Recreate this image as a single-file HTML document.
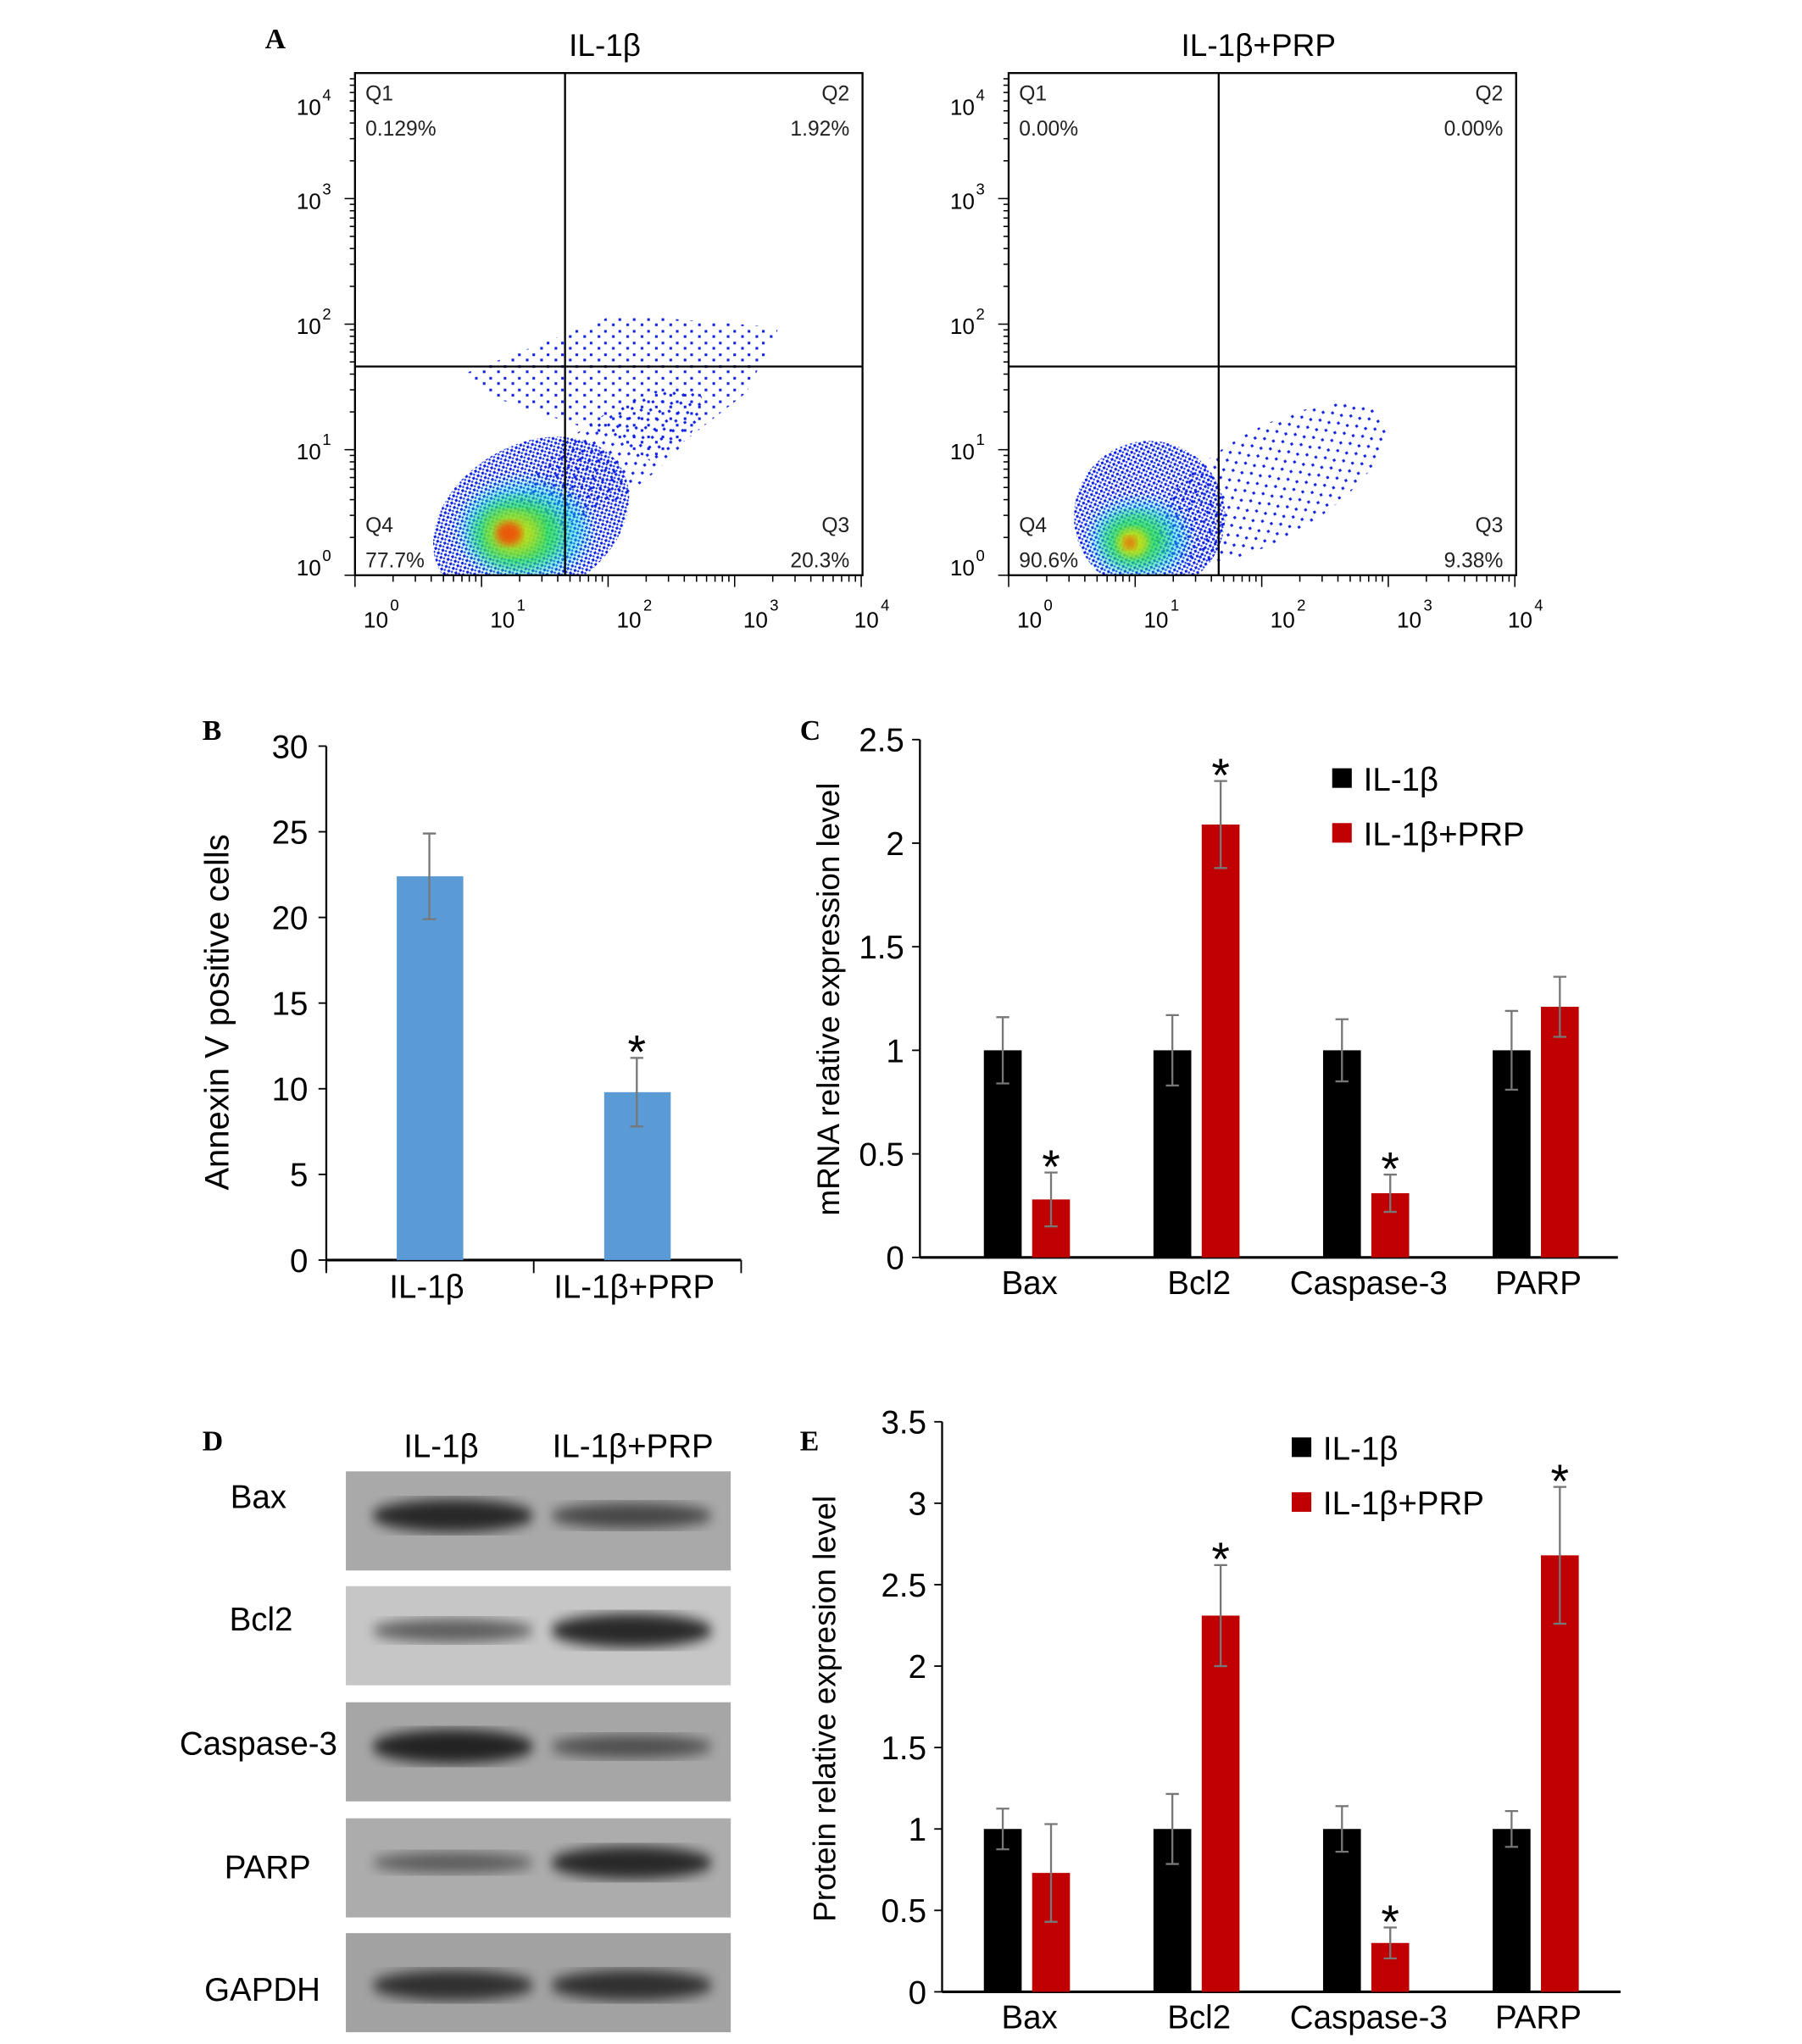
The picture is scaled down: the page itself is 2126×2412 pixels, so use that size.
<!DOCTYPE html>
<html><head><meta charset="utf-8">
<style>
html,body{margin:0;padding:0;background:#fff;}
svg{display:block;}
text{font-family:"Liberation Sans Narrow","Liberation Sans",sans-serif;}
.lbl{font-family:"Liberation Serif",serif;font-weight:bold;font-size:22px;}
</style></head>
<body>
<svg id="fig" xmlns="http://www.w3.org/2000/svg" width="2126" height="2412" viewBox="0 0 1381 1567">
<defs>
<filter id="blur3"><feGaussianBlur stdDeviation="3"/></filter>
<filter id="blur6"><feGaussianBlur stdDeviation="6"/></filter>
<filter id="blurB"><feGaussianBlur stdDeviation="4 5"/></filter>
<pattern id="dots" width="4" height="4" patternUnits="userSpaceOnUse">
<rect x="0" y="0" width="2" height="2" fill="#1020e0"/><rect x="2" y="2" width="1.5" height="1.5" fill="#1a3af0"/>
</pattern>
<pattern id="dotsSparse" width="11" height="9" patternUnits="userSpaceOnUse">
<rect x="1" y="1" width="2" height="2" fill="#1020e0"/><rect x="7" y="5" width="2" height="2" fill="#1020e0"/>
</pattern>
<clipPath id="clipL"><rect x="272" y="56" width="389" height="385"/></clipPath>
<clipPath id="clipR"><rect x="773" y="56" width="389" height="385"/></clipPath>
</defs>
<g id="panelA"></g>
<g id="panelB"></g>
<g id="panelC"></g>
<g id="panelD"></g>
<g id="panelE"></g>
</svg>
<script>
// ---------- data ----------
const flowTitles = ["IL-1β", "IL-1β+PRP"];
const flowQ1 = ["0.129%", "0.00%"];
const flowQ2 = ["1.92%", "0.00%"];
const flowQ3 = ["20.3%", "9.38%"];
const flowQ4 = ["77.7%", "90.6%"];

const bCategories = ["IL-1β", "IL-1β+PRP"];
const bValues = [22.4, 9.8];
const bErrors = [2.5, 2.0];
const bStars = [false, true];
const bTicks = [0, 5, 10, 15, 20, 25, 30];

const geneCategories = ["Bax", "Bcl2", "Caspase-3", "PARP"];
const seriesNames = ["IL-1β", "IL-1β+PRP"];
const cIL = [1, 1, 1, 1];
const cILerr = [0.16, 0.17, 0.15, 0.19];
const cPRP = [0.28, 2.09, 0.31, 1.21];
const cPRPerr = [0.13, 0.21, 0.09, 0.145];
const cStars = [true, true, true, false];
const cTicks = [0, 0.5, 1, 1.5, 2, 2.5];
const cTickLabels = ["0", "0.5", "1", "1.5", "2", "2.5"];

const eIL = [1, 1, 1, 1];
const eILerr = [0.125, 0.215, 0.14, 0.11];
const ePRP = [0.73, 2.31, 0.30, 2.68];
const ePRPerr = [0.30, 0.31, 0.095, 0.42];
const eStars = [false, true, true, true];
const eTicks = [0, 0.5, 1, 1.5, 2, 2.5, 3, 3.5];
const eTickLabels = ["0", "0.5", "1", "1.5", "2", "2.5", "3", "3.5"];

const blotRows = ["Bax", "Bcl2", "Caspase-3", "PARP", "GAPDH"];
const blotIntensityIL = [0.85, 0.45, 0.9, 0.35, 0.75];
const blotIntensityPRP = [0.55, 0.9, 0.45, 0.85, 0.75];

// ---------- helpers ----------
const NS = "http://www.w3.org/2000/svg";
function el(parent, tag, attrs, text) {
  const e = document.createElementNS(NS, tag);
  for (const k in attrs) e.setAttribute(k, attrs[k]);
  if (text !== undefined) e.textContent = text;
  parent.appendChild(e);
  return e;
}
const A = document.getElementById('panelA');
const B = document.getElementById('panelB');
const C = document.getElementById('panelC');
const D = document.getElementById('panelD');
const E = document.getElementById('panelE');

// ---------- Panel A ----------
let t = el(A, 'text', {x: 203, y: 37, class: 'lbl'}, 'A');



function drawFlow(i, ox) {
  const g = el(A, 'g', {});
  
  
  const L = ox, R = ox + 389, T = 56, Bm = 441;
  const dec = (Bm - T) / 4;
  const xdec = 97;
  const tt = el(g, 'text', {x: (L + R) / 2 - 3, y: 43, 'font-size': 24, 'text-anchor': 'middle'}, flowTitles[i]);
  
  
  // cloud
  const cl = el(g, 'g', {'clip-path': i === 0 ? 'url(#clipL)' : 'url(#clipR)'});
  
  
  if (i === 0) {
    el(cl, 'path', {d: `M${L+85} ${T+230} L${L+200} ${T+185} L${L+325} ${T+195} L${L+300} ${T+245} L${L+230} ${T+300} L${L+200} ${T+280} L${L+110} ${T+250} Z`, fill: 'url(#dotsSparse)'});
    el(cl, 'ellipse', {cx: L+195, cy: Bm-90, rx: 85, ry: 30, fill: 'url(#dotsSparse)', transform: `rotate(-35 ${L+195} ${Bm-90})`});
    el(cl, 'ellipse', {cx: L+135, cy: Bm-42, rx: 80, ry: 58, fill: 'url(#dots)', transform: `rotate(-30 ${L+135} ${Bm-42})`});
    el(cl, 'ellipse', {cx: L+130, cy: Bm-35, rx: 48, ry: 36, fill: '#00d0e0', opacity: 0.5, filter: 'url(#blur6)'});
    el(cl, 'ellipse', {cx: L+125, cy: Bm-32, rx: 34, ry: 26, fill: '#30e040', opacity: 0.75, filter: 'url(#blur6)'});
    el(cl, 'ellipse', {cx: L+122, cy: Bm-32, rx: 20, ry: 16, fill: '#f0e000', opacity: 0.7, filter: 'url(#blur6)'});
    el(cl, 'ellipse', {cx: L+118, cy: Bm-32, rx: 10, ry: 9, fill: '#ff2000', opacity: 0.7, filter: 'url(#blur3)'});
  } else {
    el(cl, 'ellipse', {cx: L+200, cy: Bm-70, rx: 100, ry: 42, fill: 'url(#dotsSparse)', transform: `rotate(-30 ${L+200} ${Bm-70})`});
    el(cl, 'ellipse', {cx: L+108, cy: Bm-45, rx: 58, ry: 58, fill: 'url(#dots)', transform: `rotate(-20 ${L+108} ${Bm-45})`});
    el(cl, 'ellipse', {cx: L+100, cy: Bm-28, rx: 36, ry: 28, fill: '#00d0e0', opacity: 0.5, filter: 'url(#blur6)'});
    el(cl, 'ellipse', {cx: L+97, cy: Bm-27, rx: 24, ry: 20, fill: '#30e040', opacity: 0.75, filter: 'url(#blur6)'});
    el(cl, 'ellipse', {cx: L+95, cy: Bm-25, rx: 12, ry: 11, fill: '#f0e000', opacity: 0.7, filter: 'url(#blur3)'});
    el(cl, 'ellipse', {cx: L+93, cy: Bm-25, rx: 5, ry: 5, fill: '#ff3000', opacity: 0.6, filter: 'url(#blur3)'});
  }
  // frame and gates
  const fr = el(g, 'rect', {x: L, y: T, width: R - L, height: Bm - T, fill: 'none', stroke: '#000', 'stroke-width': 1.5});
  
  
  const gx = L + 161, gy = 281;
  const gv = el(g, 'line', {x1: gx, y1: T, x2: gx, y2: Bm, stroke: '#000', 'stroke-width': 1.5});
  
  
  const gh = el(g, 'line', {x1: L, y1: gy, x2: R, y2: gy, stroke: '#000', 'stroke-width': 1.5});
  
  
  // ticks
  for (let d = 0; d < 4; d++) {
    for (let m = 1; m <= 9; m++) {
      const yy = Bm - (d + Math.log10(m)) * dec;
      const len = m === 1 ? 8 : 4;
      el(g, 'line', {x1: L - len, y1: yy, x2: L, y2: yy, stroke: '#000', 'stroke-width': 1});
      const xx = L + (d + Math.log10(m)) * xdec;
      el(g, 'line', {x1: xx, y1: Bm, x2: xx, y2: Bm + (m === 1 ? 9 : 5), stroke: '#000', 'stroke-width': 1});
    }
  }
  el(g, 'line', {x1: L + 4 * xdec, y1: Bm, x2: L + 4 * xdec, y2: Bm + 9, stroke: '#000', 'stroke-width': 1});
  const yLabY = [441, 352, 256, 160, 88];
  for (let d = 0; d <= 4; d++) {
    const yt = el(g, 'text', {x: L - 26, y: yLabY[d], 'font-size': 17, 'text-anchor': 'end'}, '10');
    
    
    el(g, 'text', {x: L - 25, y: yLabY[d] - 11, 'font-size': 12}, String(d));
    const xt = el(g, 'text', {x: L + d * xdec + 16 - (d === 4 ? 12 : 0), y: 481, 'font-size': 17, 'text-anchor': 'middle'}, '10');
    
    
    el(g, 'text', {x: L + d * xdec + 27 - (d === 4 ? 12 : 0), y: 468, 'font-size': 12}, String(d));
  }
  // quadrant labels
  const qs = [['Q1', L + 8, 77, 'start'], [flowQ1[i], L + 8, 104, 'start'], ['Q2', R - 10, 77, 'end'], [flowQ2[i], R - 10, 104, 'end'],
              ['Q4', L + 8, 408, 'start'], [flowQ4[i], L + 8, 435, 'start'], ['Q3', R - 10, 408, 'end'], [flowQ3[i], R - 10, 435, 'end']];
  qs.forEach(q => {
    const e = el(g, 'text', {x: q[1], y: q[2], 'font-size': 16, 'text-anchor': q[3], fill: '#222'}, q[0]);
    
    
  });
}
drawFlow(0, 272);
drawFlow(1, 773);

// ---------- Panel B ----------
t = el(B, 'text', {x: 155, y: 567, class: 'lbl'}, 'B');


const bY0 = 966, bY1 = 572, bMax = 30;
const byS = v => bY0 - (v / bMax) * (bY0 - bY1);
const bX = i => 329 + i * 159;
el(B, 'line', {x1: 250, y1: bY1, x2: 250, y2: bY0 + 8, stroke: '#000', 'stroke-width': 1.5});
el(B, 'line', {x1: 250, y1: bY0, x2: 568, y2: bY0, stroke: '#000', 'stroke-width': 2});
[250, 409, 568].forEach(x => el(B, 'line', {x1: x, y1: bY0, x2: x, y2: bY0 + 10, stroke: '#000', 'stroke-width': 1.2}));
bTicks.forEach(v => {
  el(B, 'line', {x1: 244, y1: byS(v), x2: 250, y2: byS(v), stroke: '#000', 'stroke-width': 1.2});
  const e = el(B, 'text', {x: 236, y: byS(v) + 9, 'font-size': 25, 'text-anchor': 'end'}, String(v));
  
  
});
bCategories.forEach((c, i) => {
  const e = el(B, 'text', {x: bX(i) - 2, y: 995, 'font-size': 25, 'text-anchor': 'middle'}, c);
  
  
  const bar = el(B, 'rect', {x: bX(i) - 25, y: byS(bValues[i]), width: 51, height: bY0 - byS(bValues[i]), fill: '#5b9bd5'});
  
  
  const top = byS(bValues[i] + bErrors[i]), bot = byS(bValues[i] - bErrors[i]);
  const eb = el(B, 'path', {d: `M${bX(i)} ${top}V${bot}M${bX(i)-5} ${top}H${bX(i)+5}M${bX(i)-5} ${bot}H${bX(i)+5}`, stroke: '#777', 'stroke-width': 1.5, fill: 'none'});
  
  
  if (bStars[i]) {
    const s = el(B, 'text', {x: bX(i), y: top + 8, 'font-size': 36, 'text-anchor': 'middle'}, '*');
    
    
  }
});
t = el(B, 'text', {x: 0, y: 0, 'font-size': 26, 'text-anchor': 'middle', transform: 'translate(175 776) rotate(-90)', style: 'font-family:"Liberation Sans",sans-serif'}, 'Annexin V positive cells');



// ---------- grouped chart helper ----------
function grouped(G, opt) {
  const ys = v => opt.y0 - (v / opt.max) * (opt.y0 - opt.y1);
  const gx = i => opt.gx0 + i * 130;
  el(G, 'line', {x1: opt.ax, y1: opt.y1, x2: opt.ax, y2: opt.y0, stroke: '#000', 'stroke-width': 1.5});
  el(G, 'line', {x1: opt.ax, y1: opt.y0, x2: opt.xEnd, y2: opt.y0, stroke: '#000', 'stroke-width': 2});
  opt.ticks.forEach((v, k) => {
    el(G, 'line', {x1: opt.ax - 6, y1: ys(v), x2: opt.ax, y2: ys(v), stroke: '#000', 'stroke-width': 1.2});
    const e = el(G, 'text', {x: opt.ax - 12, y: ys(v) + 9, 'font-size': 25, 'text-anchor': 'end'}, opt.tickLabels[k]);
    
    
  });
  geneCategories.forEach((c, i) => {
    const e = el(G, 'text', {x: gx(i) + 35, y: opt.y0 + 28, 'font-size': 25, 'text-anchor': 'middle'}, c);
    
    
    [[opt.s1, opt.e1, '#000', 0, false], [opt.s2, opt.e2, '#c00000', 37, opt.stars[i]]].forEach(sr => {
      const v = sr[0][i], er = sr[1][i], x = gx(i) + sr[3];
      const bar = el(G, 'rect', {x: x, y: ys(v), width: 29, height: opt.y0 - ys(v), fill: sr[2]});
      
      
      const cx = x + 14.5, top = ys(v + er), bot = ys(v - er);
      const eb = el(G, 'path', {d: `M${cx} ${top}V${bot}M${cx-5} ${top}H${cx+5}M${cx-5} ${bot}H${cx+5}`, stroke: '#777', 'stroke-width': 1.5, fill: 'none'});
      
      
      if (sr[4]) {
        const s = el(G, 'text', {x: cx, y: top + 8, 'font-size': 36, 'text-anchor': 'middle'}, '*');
        
        
      }
    });
  });
  seriesNames.forEach((n, k) => {
    const lg = el(G, 'g', {});
    
    
    const ly = opt.legY + k * 42;
    el(lg, 'rect', {x: opt.legX, y: ly - 8, width: 15, height: 15, fill: k ? '#c00000' : '#000'});
    el(lg, 'text', {x: opt.legX + 24, y: ly + 9, 'font-size': 25}, n);
  });
  const yt = el(G, 'text', {x: 0, y: 0, 'font-size': 24, 'text-anchor': 'middle', transform: `translate(${opt.titleX} ${opt.titleY}) rotate(-90)`, style: 'font-family:"Liberation Sans",sans-serif'}, opt.title);
  
  
}

t = el(C, 'text', {x: 613, y: 567, class: 'lbl'}, 'C');


grouped(C, {y0: 964, y1: 567, max: 2.5, ax: 705, xEnd: 1240, gx0: 754, ticks: cTicks, tickLabels: cTickLabels,
  s1: cIL, e1: cILerr, s2: cPRP, e2: cPRPerr, stars: cStars, legX: 1021, legY: 597, title: 'mRNA relative expression level', titleX: 643, titleY: 766});

t = el(E, 'text', {x: 613, y: 1112, class: 'lbl'}, 'E');


grouped(E, {y0: 1527, y1: 1090, max: 3.5, ax: 722, xEnd: 1242, gx0: 754, ticks: eTicks, tickLabels: eTickLabels,
  s1: eIL, e1: eILerr, s2: ePRP, e2: ePRPerr, stars: eStars, legX: 990, legY: 1110, title: 'Protein relative expresion level', titleX: 640, titleY: 1310});

// ---------- Panel D ----------
t = el(D, 'text', {x: 155, y: 1112, class: 'lbl'}, 'D');


[['IL-1β', 338], ['IL-1β+PRP', 485]].forEach(h => {
  const e = el(D, 'text', {x: h[1], y: 1117, 'font-size': 25, 'text-anchor': 'middle'}, h[0]);
  
  
});
const blotTop = [1128, 1216, 1305, 1394, 1482];
const blotBg = ['#a9a9a9', '#c6c6c6', '#a6a6a6', '#acacac', '#a2a2a2'];
const blotLabelX = [198, 200, 198, 205, 201];
const blotLabelY = [1156, 1250, 1345, 1440, 1534];
blotRows.forEach((r, i) => {
  const g = el(D, 'g', {});
  
  
  el(g, 'rect', {x: 265, y: blotTop[i], width: 295, height: 76, fill: blotBg[i]});
  const cy = blotTop[i] + (i === 4 ? 40 : 34);
  const b1 = el(g, 'ellipse', {cx: 347, cy: cy, rx: 62, ry: 5 + 9 * blotIntensityIL[i], fill: '#000', opacity: 0.25 + 0.6 * blotIntensityIL[i], filter: 'url(#blurB)'});
  
  
  const b2 = el(g, 'ellipse', {cx: 484, cy: cy, rx: 62, ry: 5 + 9 * blotIntensityPRP[i], fill: '#000', opacity: 0.25 + 0.6 * blotIntensityPRP[i], filter: 'url(#blurB)'});
  
  
  const lab = el(D, 'text', {x: blotLabelX[i], y: blotLabelY[i], 'font-size': 25, 'text-anchor': 'middle'}, r);
  
  
});
</script>
</body></html>
